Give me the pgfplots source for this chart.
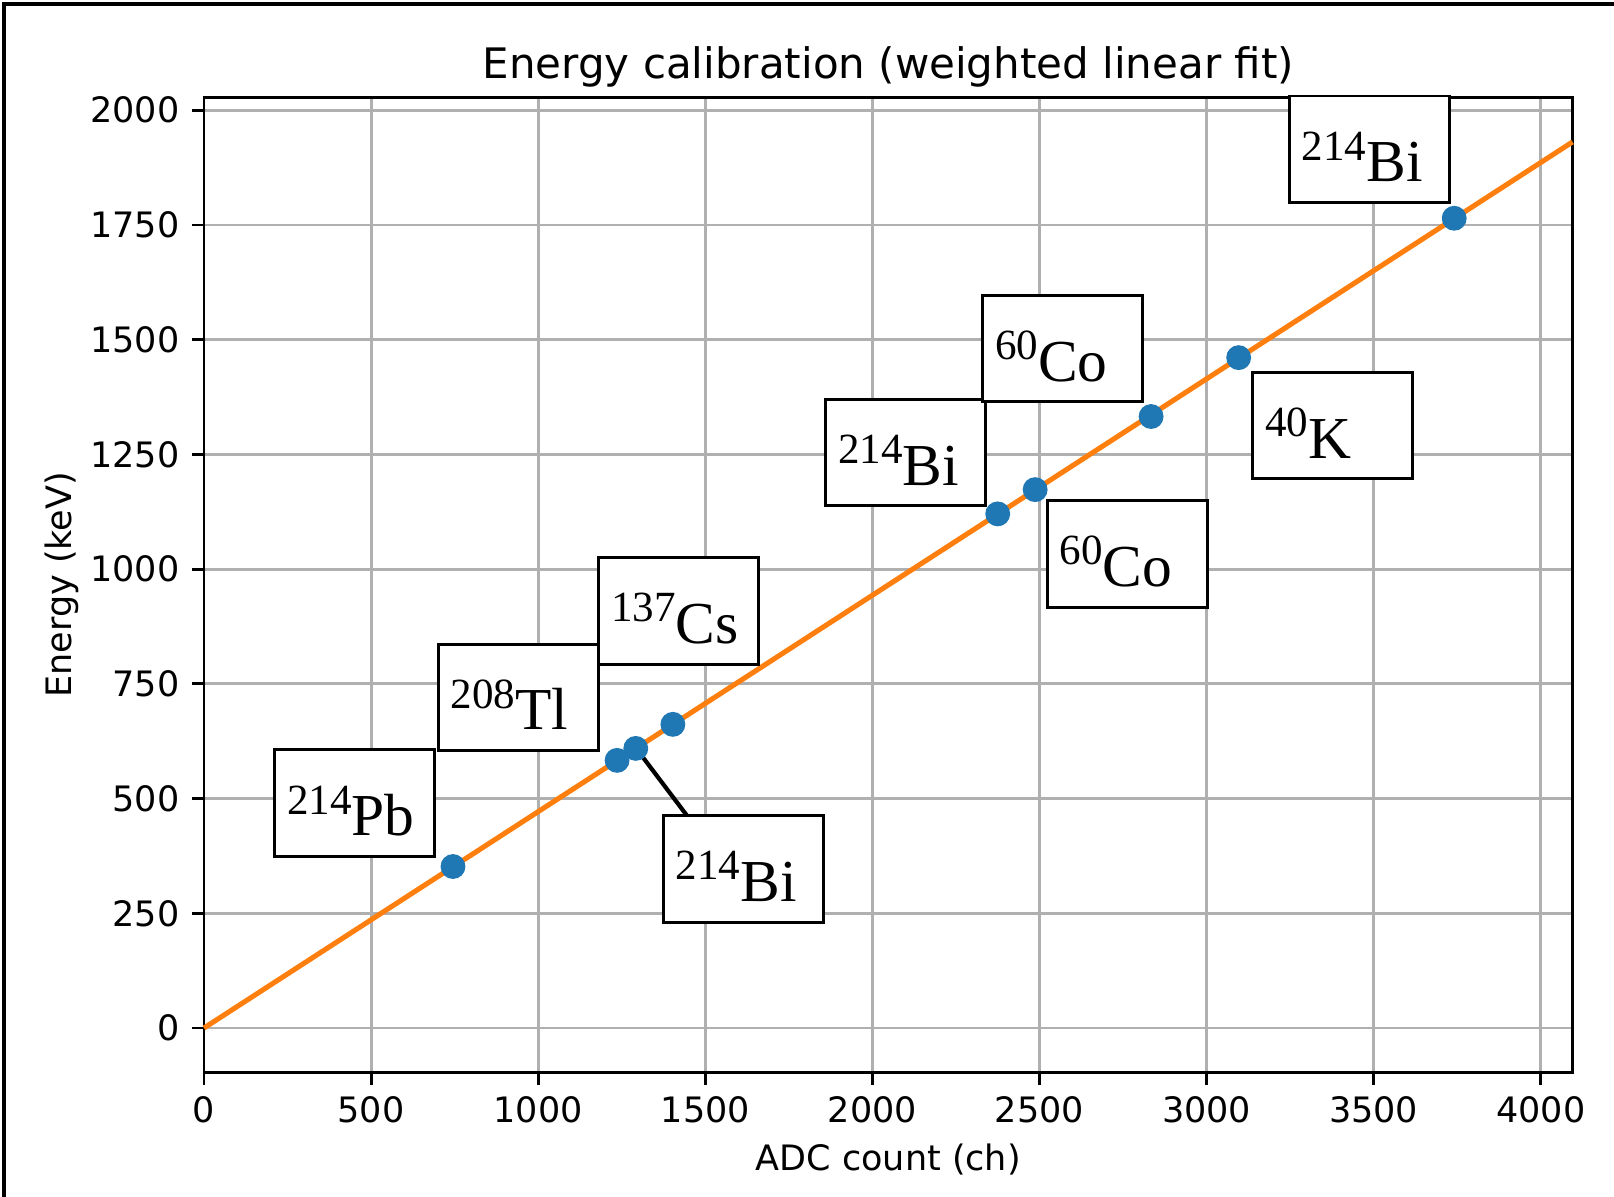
\documentclass[border=0pt]{standalone}
\usepackage{pgfplots}
\pgfplotsset{compat=1.18}
\usepackage{pgfplotstable}
\usepackage{fontspec}
\setmainfont{DejaVu Sans}
\newfontfamily\serif{Liberation Serif}

\definecolor{mplblue}{HTML}{1F77B4}
\definecolor{mplorange}{HTML}{FF7F0E}
\definecolor{gridgray}{HTML}{B0B0B0}

% isotope label: mass number as superscript
\newcommand\iso[2]{{\serif\fontsize{17}{20}\selectfont\raisebox{6.2pt}{\fontsize{12.3}{12.3}\selectfont #1}#2}}
% boxed label, text set from the box's lower left corner
\newcommand\isolabel[4]{%
  \node[isobox] (b) at (axis cs:#1,#2) {};
  \node[anchor=base west, inner sep=0pt] at ([xshift=3.8pt, yshift=6.3pt]b.south west) {\iso{#3}{#4}};
}

\pgfplotstableread{
adc energy
745 351.9
1236 583.2
1292 609.3
1403 661.7
2375 1120.3
2487 1173.2
2834 1332.5
3096 1460.8
3741 1764.5
}\peaks

\tikzset{
  isobox/.style={draw, fill=white, line width=0.85pt, minimum width=45.7pt,
    minimum height=30.4pt, inner sep=0pt},
}

\begin{document}
\begin{tikzpicture}
\useasboundingbox (0,0) rectangle (461.14pt,342pt);
\begin{axis}[
  at={(58.29pt,35.63pt)}, anchor=south west,
  scale only axis, width=391pt, height=278.46pt,
  xmin=0, xmax=4095, ymin=-96.5, ymax=2027.3,
  xtick={0,500,...,4000}, ytick={0,250,...,2000},
  grid=major,
  major grid style={gridgray, line width=0.8pt},
  axis line style={line width=0.8pt},
  tick style={black, line width=0.8pt},
  tick align=outside, major tick length=3.5pt,
  xtick pos=bottom, ytick pos=left,
  ticklabel style={font=\fontsize{10}{12}\selectfont},
  /pgf/number format/assume math mode=true,
  /pgf/number format/set thousands separator={},
  clip=false,
]
\addplot[mplorange, line width=1.45pt] coordinates {(0,0) (4095,1930.8)};
\draw[black, line width=1.2pt] (axis cs:1292,610.4) -- (axis cs:1445,463);
\addplot[only marks, mark=*, mark size=3.35pt, mplblue, mark options={draw=mplblue, fill=mplblue}]
  table[x=adc, y=energy] {\peaks};

\isolabel{451}{490}{214}{Pb}
\isolabel{940}{720.8}{208}{Tl}
\isolabel{1420}{908.8}{137}{Cs}
\isolabel{1614}{346.5}{214}{Bi}
\isolabel{2099}{1254}{214}{Bi}
\isolabel{2763}{1033}{60}{Co}
\isolabel{2569}{1480.6}{60}{Co}
\isolabel{3378}{1313}{40}{K}
\isolabel{3487}{1915}{214}{Bi}
\end{axis}
\node[anchor=base, inner sep=0pt, font=\fontsize{12}{14.4}\selectfont] at (253.79pt,319.7pt) {Energy calibration (weighted linear fit)};
\node[anchor=base, inner sep=0pt, font=\fontsize{10}{12}\selectfont] at (253.79pt,7.7pt) {ADC count (ch)};
\node[anchor=base, rotate=90, inner sep=0pt, font=\fontsize{10}{12}\selectfont] at (20.3pt,174.9pt) {Energy (keV)};
\draw[line width=1.2pt] (1.1pt,0) -- (1.1pt,340.9pt) -- (461.14pt,340.9pt);
\end{tikzpicture}
\end{document}
